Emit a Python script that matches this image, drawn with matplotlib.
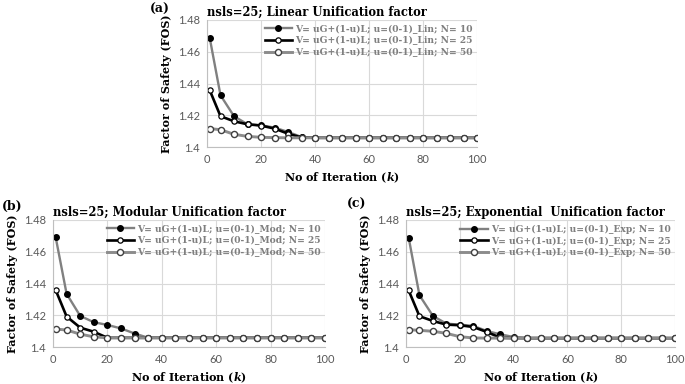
import numpy as np
import matplotlib
matplotlib.use("Agg")
import matplotlib.pyplot as plt

plt.rcParams['mathtext.fontset'] = 'dejavuserif'

# iteration numbers where the FOS was recorded
iters = [1, 5, 10, 15, 20, 25, 30, 35, 40, 45, 50, 55, 60, 65, 70, 75, 80, 85, 90, 95, 100]
tail = [1.4058] * 13

# (a) linear unification factor
lin_n10 = [1.4688, 1.4326, 1.4194, 1.4143, 1.4137, 1.4122, 1.4095, 1.4063] + tail
lin_n25 = [1.4358, 1.4194, 1.4162, 1.4143, 1.4135, 1.4116, 1.4084, 1.4060] + tail
lin_n50 = [1.4116, 1.4109, 1.4080, 1.4067, 1.4061, 1.4059, 1.4058, 1.4058] + tail

# (b) modular unification factor
mod_n10 = [1.4690, 1.4335, 1.4196, 1.4156, 1.4139, 1.4117, 1.4085, 1.4058] + tail
mod_n25 = [1.4358, 1.4192, 1.4122, 1.4096, 1.4058, 1.4058, 1.4058, 1.4058] + tail
mod_n50 = [1.4113, 1.4107, 1.4081, 1.4064, 1.4058, 1.4058, 1.4058, 1.4058] + tail

# (c) exponential unification factor
exp_n10 = [1.4688, 1.4326, 1.4196, 1.4147, 1.4141, 1.4133, 1.4101, 1.4080] + [1.4063] + [1.4056] * 12
exp_n25 = [1.4356, 1.4194, 1.4164, 1.4141, 1.4137, 1.4126, 1.4095, 1.4059] + [1.4056] * 13
exp_n50 = [1.4109, 1.4105, 1.4099, 1.4086, 1.4065, 1.4057, 1.4056, 1.4056] + [1.4056] * 12 + [1.4054]

panels = [
    ("(a)", "nsls=25; Linear Unification factor", "Lin", [lin_n10, lin_n25, lin_n50]),
    ("(b)", "nsls=25; Modular Unification factor", "Mod", [mod_n10, mod_n25, mod_n50]),
    ("(c)", "nsls=25; Exponential  Unification factor", "Exp", [exp_n10, exp_n25, exp_n50]),
]
n_values = [10, 25, 50]

W, H = 685, 384
# axes boxes in pixels: left, top, right, bottom
boxes = [(207, 20, 477, 147), (53, 220, 325, 347), (406, 220, 675, 347)]
tags_xy = [(150, 9), (2, 206), (347, 204)]

styles = [
    dict(color="#808080", lw=1.7, marker="o", ms=4.0, mfc="black", mec="black"),
    dict(color="black", lw=1.9, marker="o", ms=3.8, mfc="white", mec="black", mew=0.9),
    dict(color="#8c8c8c", lw=2.1, marker="o", ms=4.4, mfc="white", mec="#404040", mew=1.0),
]

serif = "DejaVu Serif"
fig = plt.figure(figsize=(W / 100, H / 100), dpi=100)

for (tag, title, short, series), box, txy in zip(panels, boxes, tags_xy):
    l, t, r, b = box
    ax = fig.add_axes([l / W, 1 - b / H, (r - l) / W, (b - t) / H])
    for n, ys, st in zip(n_values, series, styles):
        ax.plot(iters, ys, label="V= uG+(1-u)L; u=(0-1)_{0}; N= {1}".format(short, n), **st)
    ax.set_xlim(0, 100)
    ax.set_ylim(1.4, 1.48)
    ax.set_xticks([0, 20, 40, 60, 80, 100])
    ax.set_yticks([1.4, 1.42, 1.44, 1.46, 1.48])
    ax.set_yticklabels(["1.4", "1.42", "1.44", "1.46", "1.48"])
    ax.grid(True, color="#d9d9d9", lw=0.8)
    ax.set_axisbelow(True)
    for s in ["top", "right"]:
        ax.spines[s].set_visible(False)
    for s in ["left", "bottom"]:
        ax.spines[s].set_color("#bfbfbf")
    ax.tick_params(length=0, labelsize=8, labelcolor="#595959", pad=5)
    for lab in ax.get_xticklabels() + ax.get_yticklabels():
        lab.set_family("Lato")
    ax.set_title(title, loc="left", fontsize=8.3, fontweight="bold", family=serif, pad=3)
    ax.set_xlabel("No of Iteration ($\\mathbfit{k}$)", fontsize=8, fontweight="bold", family=serif, labelpad=4)
    ax.set_ylabel("Factor of Safety (FOS)", fontsize=8, fontweight="bold", family=serif, labelpad=4)
    leg = ax.legend(loc="upper right", frameon=False, handlelength=3.0,
                    borderaxespad=0.1, labelspacing=0.3, handletextpad=0.3,
                    prop=dict(family=serif, weight="bold", size=6.6))
    for txt in leg.get_texts():
        txt.set_color("#7f7f7f")
    fig.text(txy[0] / W, 1 - txy[1] / H, tag, fontsize=9, fontweight="bold", family=serif, va="center")

fig.savefig("out.png", dpi=100)
